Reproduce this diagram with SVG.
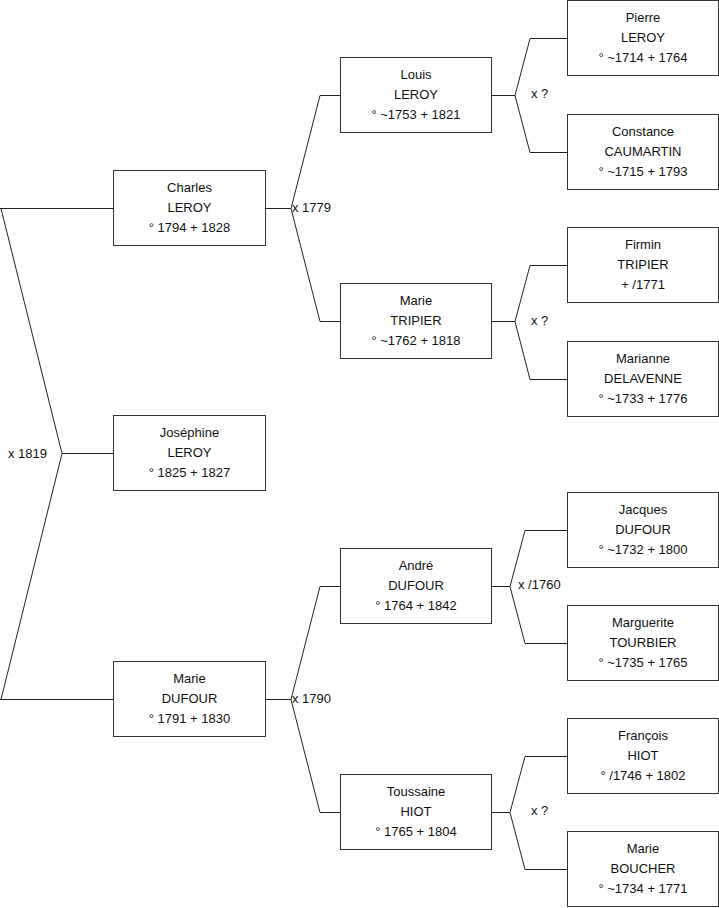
<svg xmlns="http://www.w3.org/2000/svg" width="719" height="908" viewBox="0 0 719 908">
<style>
.box{fill:#fff;stroke:#333;stroke-width:1}
.c{fill:none;stroke:#222;stroke-width:1}
text{font-family:"Liberation Sans",Arial,sans-serif;font-size:13px;fill:#111}
.t{text-anchor:middle}
</style>
<rect width="719" height="908" fill="#fff"/>
<g id="connectors">
<path class="c" d="M0,208.5H113.5 M1,208.5L62,453.5L1,699.5 M62,453.5H113.5 M0,699.5H113.5"/>
<path class="c" d="M265.5,208.5H291 M320,95.5L291,208.5L320,321.5 M320,95.5H340.5 M320,321.5H340.5"/>
<path class="c" d="M265.5,699.5H291 M320,586.5L291,699.5L320,812.5 M320,586.5H340.5 M320,812.5H340.5"/>
<path class="c" d="M491.5,95.5H515 M530,38.5L515,95.5L530,152.5 M530,38.5H567.5 M530,152.5H567.5"/>
<path class="c" d="M491.5,321.5H515 M530,265.5L515,321.5L530,379.5 M530,265.5H567.5 M530,379.5H567.5"/>
<path class="c" d="M491.5,586.5H510 M525,530.5L510,586.5L525,643.5 M525,530.5H567.5 M525,643.5H567.5"/>
<path class="c" d="M491.5,812.5H510 M525,756.5L510,812.5L525,869.5 M525,756.5H567.5 M525,869.5H567.5"/>
<text x="8" y="457.5">x 1819</text>
<text x="292" y="211.5">x 1779</text>
<text x="292" y="702.5">x 1790</text>
<text x="531" y="97.5">x ?</text>
<text x="531" y="324.5">x ?</text>
<text x="518" y="589">x /1760</text>
<text x="531" y="815">x ?</text>
</g>
<g id="charles"><rect class="box" x="113.5" y="170.5" width="152" height="75"/>
<text class="t" x="189.5" y="191.5">Charles</text><text class="t" x="189.5" y="211.5">LEROY</text><text class="t" x="189.5" y="231.5">° 1794 + 1828</text></g>
<g id="josephine"><rect class="box" x="113.5" y="415.5" width="152" height="75"/>
<text class="t" x="189.5" y="436.5">Joséphine</text><text class="t" x="189.5" y="456.5">LEROY</text><text class="t" x="189.5" y="476.5">° 1825 + 1827</text></g>
<g id="marie-dufour"><rect class="box" x="113.5" y="661.5" width="152" height="75"/>
<text class="t" x="189.5" y="682.5">Marie</text><text class="t" x="189.5" y="702.5">DUFOUR</text><text class="t" x="189.5" y="722.5">° 1791 + 1830</text></g>
<g id="louis"><rect class="box" x="340.5" y="57.5" width="151" height="75"/>
<text class="t" x="416" y="78.5">Louis</text><text class="t" x="416" y="98.5">LEROY</text><text class="t" x="416" y="118.5">° ~1753 + 1821</text></g>
<g id="marie-tripier"><rect class="box" x="340.5" y="283.5" width="151" height="75"/>
<text class="t" x="416" y="304.5">Marie</text><text class="t" x="416" y="324.5">TRIPIER</text><text class="t" x="416" y="344.5">° ~1762 + 1818</text></g>
<g id="andre"><rect class="box" x="340.5" y="548.5" width="151" height="75"/>
<text class="t" x="416" y="569.5">André</text><text class="t" x="416" y="589.5">DUFOUR</text><text class="t" x="416" y="609.5">° 1764 + 1842</text></g>
<g id="toussaine"><rect class="box" x="340.5" y="774.5" width="151" height="75"/>
<text class="t" x="416" y="795.5">Toussaine</text><text class="t" x="416" y="815.5">HIOT</text><text class="t" x="416" y="835.5">° 1765 + 1804</text></g>
<g id="pierre"><rect class="box" x="567.5" y="0.5" width="151" height="75"/>
<text class="t" x="643" y="21.5">Pierre</text><text class="t" x="643" y="41.5">LEROY</text><text class="t" x="643" y="61.5">° ~1714 + 1764</text></g>
<g id="constance"><rect class="box" x="567.5" y="114.5" width="151" height="75"/>
<text class="t" x="643" y="135.5">Constance</text><text class="t" x="643" y="155.5">CAUMARTIN</text><text class="t" x="643" y="175.5">° ~1715 + 1793</text></g>
<g id="firmin"><rect class="box" x="567.5" y="227.5" width="151" height="75"/>
<text class="t" x="643" y="248.5">Firmin</text><text class="t" x="643" y="268.5">TRIPIER</text><text class="t" x="643" y="288.5">+ /1771</text></g>
<g id="marianne"><rect class="box" x="567.5" y="341.5" width="151" height="75"/>
<text class="t" x="643" y="362.5">Marianne</text><text class="t" x="643" y="382.5">DELAVENNE</text><text class="t" x="643" y="402.5">° ~1733 + 1776</text></g>
<g id="jacques"><rect class="box" x="567.5" y="492.5" width="151" height="75"/>
<text class="t" x="643" y="513.5">Jacques</text><text class="t" x="643" y="533.5">DUFOUR</text><text class="t" x="643" y="553.5">° ~1732 + 1800</text></g>
<g id="marguerite"><rect class="box" x="567.5" y="605.5" width="151" height="75"/>
<text class="t" x="643" y="626.5">Marguerite</text><text class="t" x="643" y="646.5">TOURBIER</text><text class="t" x="643" y="666.5">° ~1735 + 1765</text></g>
<g id="francois"><rect class="box" x="567.5" y="718.5" width="151" height="75"/>
<text class="t" x="643" y="739.5">François</text><text class="t" x="643" y="759.5">HIOT</text><text class="t" x="643" y="779.5">° /1746 + 1802</text></g>
<g id="marie-boucher"><rect class="box" x="567.5" y="831.5" width="151" height="75"/>
<text class="t" x="643" y="852.5">Marie</text><text class="t" x="643" y="872.5">BOUCHER</text><text class="t" x="643" y="892.5">° ~1734 + 1771</text></g>
</svg>
